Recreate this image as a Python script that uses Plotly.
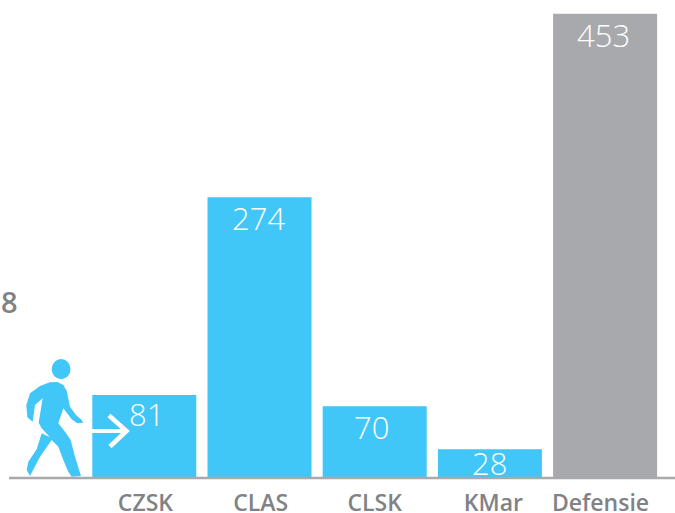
import plotly.graph_objects as go

categories = ["CZSK", "CLAS", "CLSK", "KMar", "Defensie"]
values = [81, 274, 70, 28, 453]
bar_colors = ["#41C6F8", "#41C6F8", "#41C6F8", "#41C6F8", "#A8A9AD"]
tick_positions = [0.01, 1.01, 2.0, 3.03, 3.96]
label_nudge_x = [2, -1, -3, 0, -2]
label_nudge_y = [4, 2, 2, 9, 2]
side_label = "8"

W, H = 675, 513
BASE = 478
BLUE = "#41C6F8"
GREY_TEXT = "#808285"


def px(x):
    return x / W


def py(y):
    return (BASE - y) / BASE


def zoom_path(points):
    out = []
    for i, (zx, zy) in enumerate(points):
        x, y = zx / 3, 340 + zy / 3
        out.append(f"{'M' if i == 0 else 'L'}{px(x):.5f},{py(y):.5f}")
    return " ".join(out) + " Z"


person = [
    (150, 127), (172, 126), (190, 135), (200, 152), (210, 200), (228, 225), (245, 240), (250, 248),
    (232, 250), (215, 238), (190, 205), (175, 250), (195, 275), (212, 300), (225, 350), (243, 408),
    (215, 410), (205, 395), (190, 360), (175, 320), (155, 300), (120, 350), (90, 408), (80, 390),
    (85, 365), (110, 328), (125, 280), (150, 292), (125, 265), (116, 248), (128, 175), (105, 195),
    (98, 245), (82, 232), (79, 195), (90, 160), (120, 138),
]

fig = go.Figure(
    go.Bar(
        x=list(range(len(categories))),
        y=values,
        marker=dict(color=bar_colors, line=dict(width=0)),
        hoverinfo="skip",
    )
)

shapes = [
    dict(type="path", xref="paper", yref="paper", path=zoom_path(person),
         fillcolor=BLUE, line=dict(width=0), layer="above"),
    dict(type="circle", xref="paper", yref="paper", x0=px(51.7), x1=px(70.5), y0=py(379.3), y1=py(359),
         fillcolor=BLUE, line=dict(width=0), layer="above"),
    dict(type="path", xref="paper", yref="paper",
         path=f"M{px(92)},{py(431)} L{px(126)},{py(431)}",
         line=dict(color="white", width=4), layer="above"),
    dict(type="path", xref="paper", yref="paper",
         path=f"M{px(109)},{py(415.5)} L{px(126.5)},{py(431)} L{px(110)},{py(446.5)}",
         line=dict(color="white", width=4.5), layer="above"),
    dict(type="line", xref="paper", yref="paper", x0=px(9), x1=1, y0=py(478), y1=py(478),
         line=dict(color="#A8A9AD", width=2.5), layer="above"),
]

annotations = [
    dict(text=side_label, xref="paper", yref="paper", x=px(-1), y=py(302), xanchor="left", yanchor="middle",
         showarrow=False, font=dict(family="Open Sans", size=29, color=GREY_TEXT, weight=600)),
]
for i, v in enumerate(values):
    annotations.append(
        dict(text=str(v), x=i, y=v, xref="x", yref="y", xanchor="center", yanchor="top",
             xshift=label_nudge_x[i], yshift=label_nudge_y[i], showarrow=False,
             font=dict(family="Open Sans", size=31, color="white", weight=300))
    )

fig.update_layout(
    width=W,
    height=H,
    autosize=False,
    margin=dict(l=0, r=0, t=0, b=H - BASE, pad=0, autoexpand=False),
    paper_bgcolor="white",
    plot_bgcolor="white",
    showlegend=False,
    bargap=0.097,
    shapes=shapes,
    annotations=annotations,
    xaxis=dict(
        range=[-144.3 / 115.2, 530.7 / 115.2],
        tickmode="array",
        tickvals=tick_positions,
        ticktext=categories,
        showgrid=False,
        zeroline=False,
        showline=False,
        ticks="",
        automargin=False,
        ticklabelstandoff=9,
        tickfont=dict(family="Open Sans", size=23, color=GREY_TEXT, weight=600),
    ),
    yaxis=dict(range=[0, 466.5], visible=False, automargin=False),
)

fig.write_html(
    "out.html",
    config=dict(displayModeBar=False),
    post_script="document.body.style.margin='0';document.documentElement.style.overflow='hidden';",
)
